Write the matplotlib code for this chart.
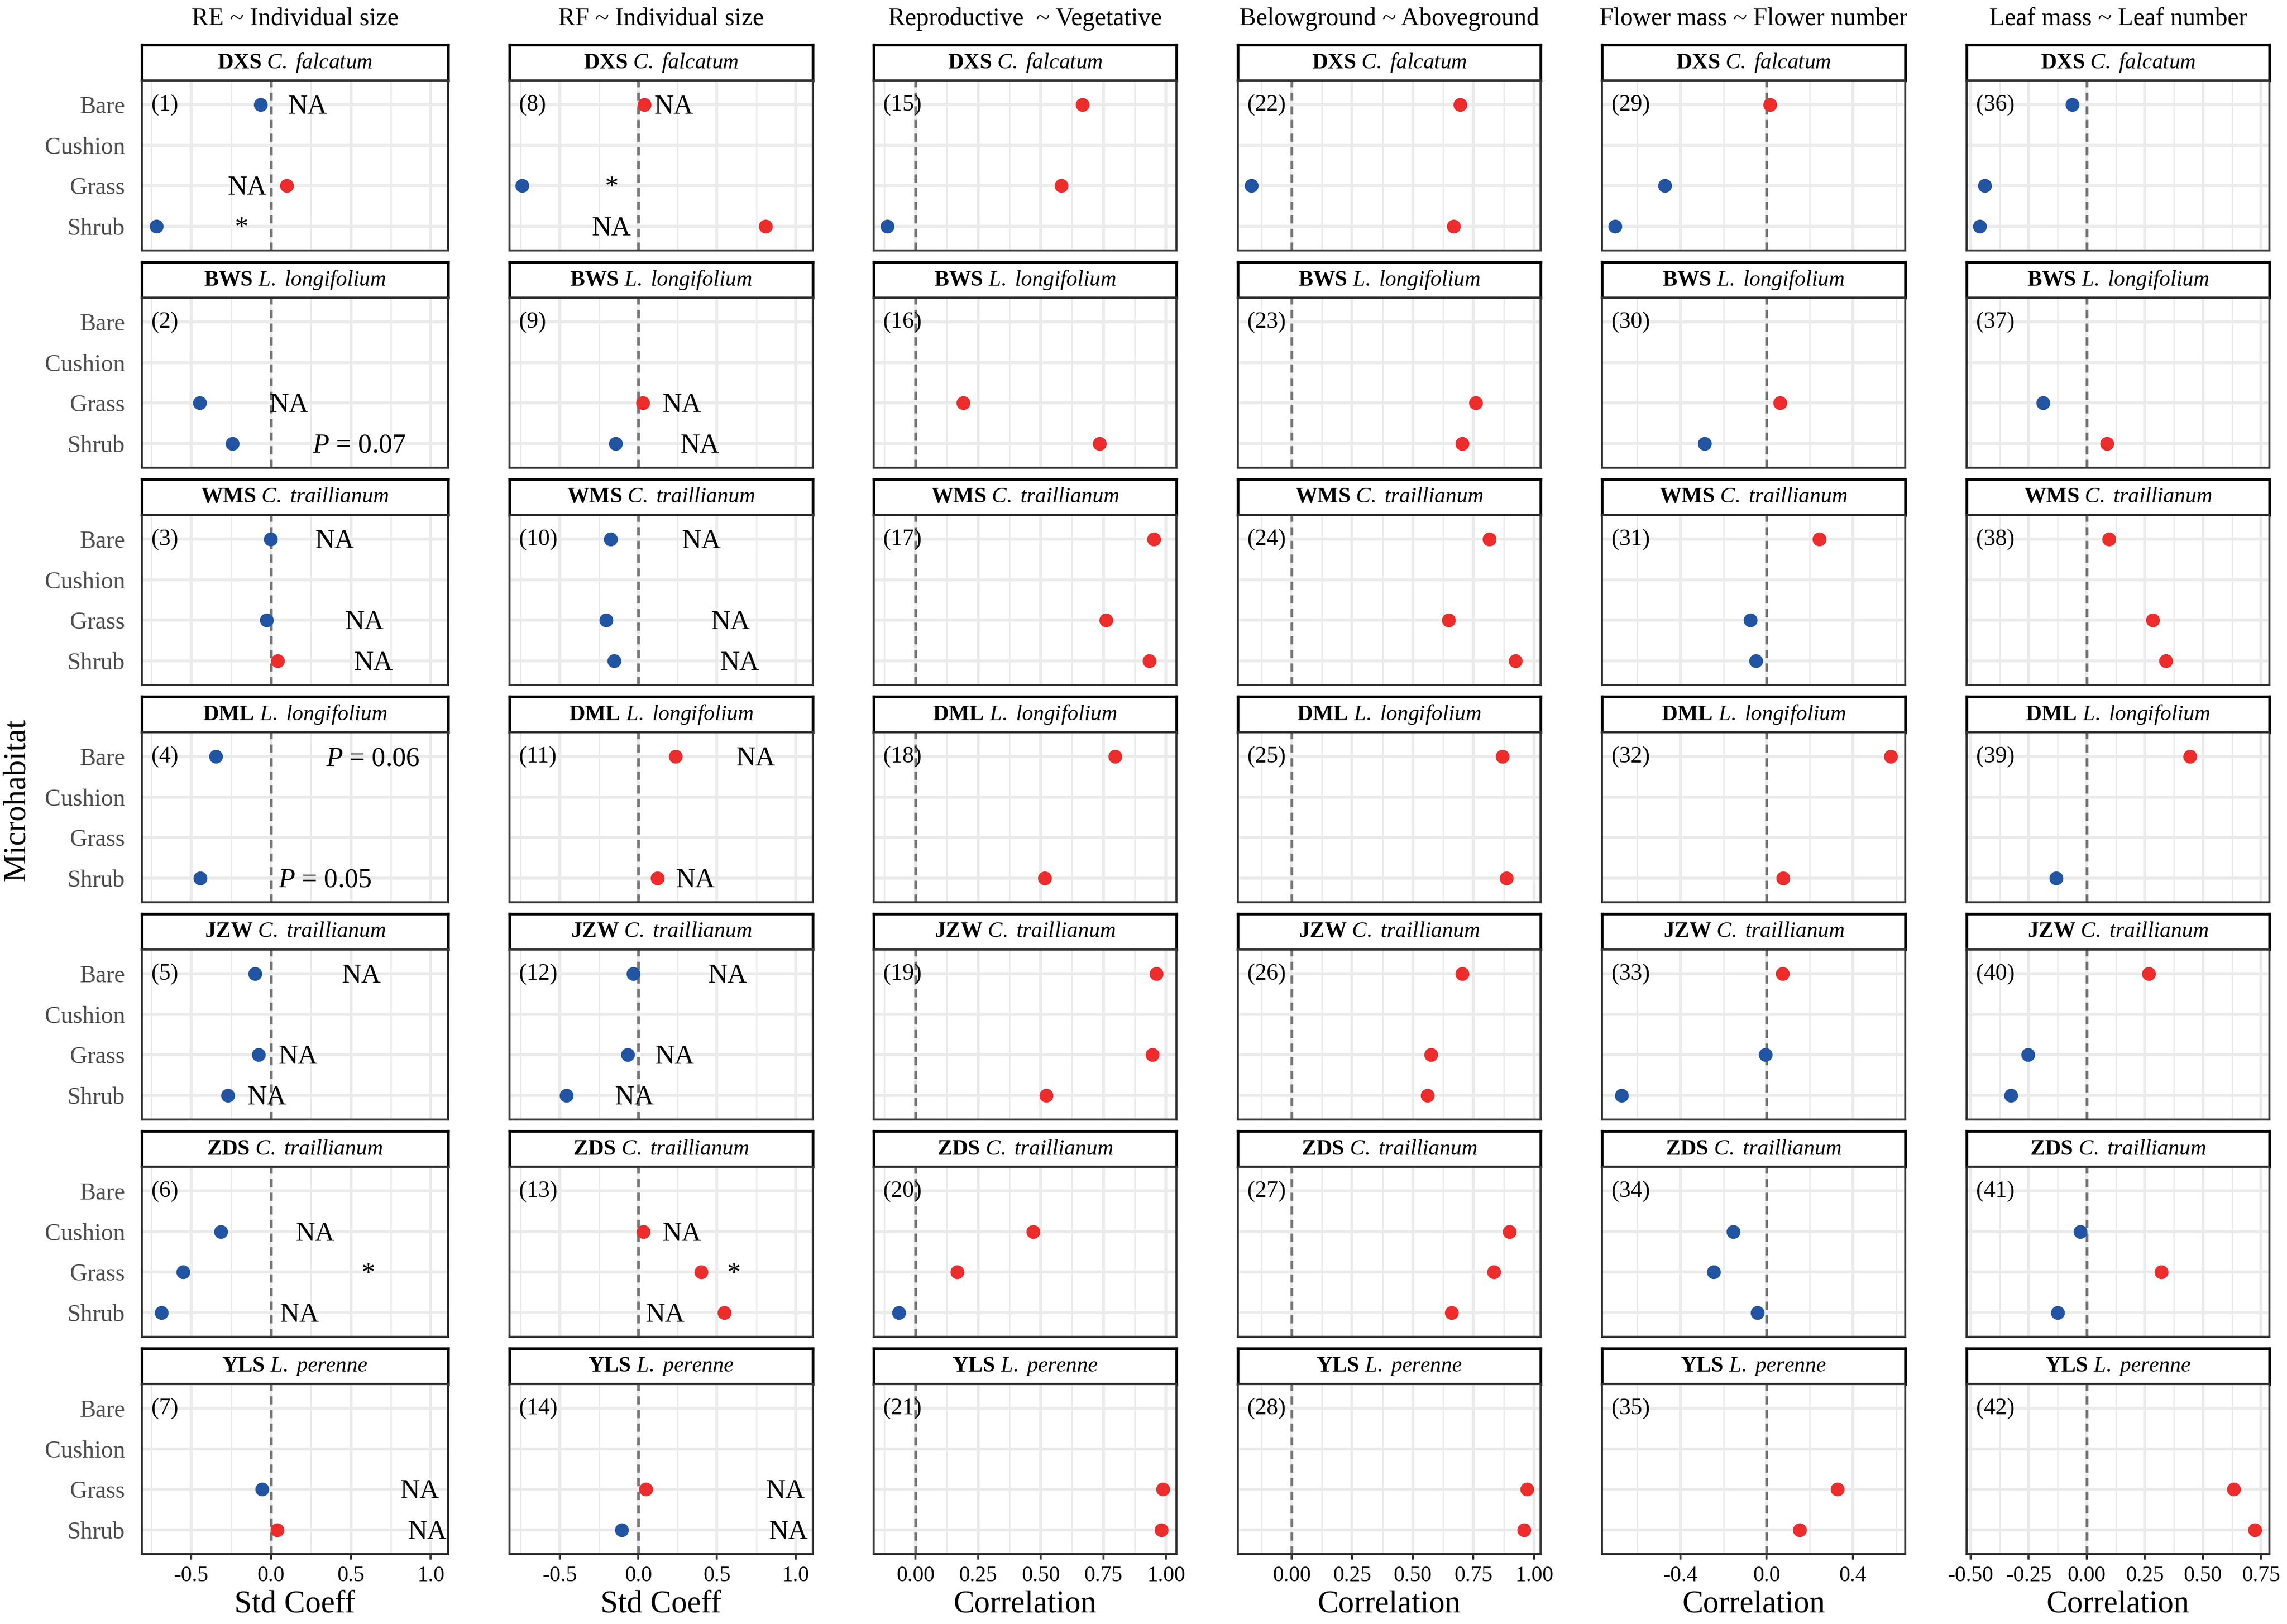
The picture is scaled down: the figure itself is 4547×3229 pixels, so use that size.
import matplotlib
matplotlib.use("Agg")
import matplotlib.pyplot as plt
import numpy as np
from matplotlib.ticker import FixedLocator, FormatStrFormatter

plt.rcParams["font.family"] = ["Liberation Serif", "DejaVu Serif"]
plt.rcParams["mathtext.fontset"] = "custom"
plt.rcParams["mathtext.rm"] = "Liberation Serif"
plt.rcParams["mathtext.it"] = "Liberation Serif:italic"
plt.rcParams["mathtext.bf"] = "Liberation Serif:bold"

nan = np.nan

habitats = ["Bare", "Cushion", "Grass", "Shrub"]
sites = ["DXS", "BWS", "WMS", "DML", "JZW", "ZDS", "YLS"]
species = ["C. falcatum", "L. longifolium", "C. traillianum", "L. longifolium",
           "C. traillianum", "C. traillianum", "L. perenne"]

col_titles = ["RE ~ Individual size", "RF ~ Individual size", "Reproductive  ~ Vegetative",
              "Belowground ~ Aboveground", "Flower mass ~ Flower number", "Leaf mass ~ Leaf number"]
x_titles = ["Std Coeff", "Std Coeff", "Correlation", "Correlation", "Correlation", "Correlation"]

# values: rows = sites, columns = Bare, Cushion, Grass, Shrub
re_size = [[-0.065, nan, 0.098, -0.720],
           [nan, nan, -0.449, -0.244],
           [-0.003, nan, -0.028, 0.040],
           [-0.345, nan, nan, -0.444],
           [-0.101, nan, -0.079, -0.272],
           [nan, -0.315, -0.551, -0.688],
           [nan, nan, -0.056, 0.039]]

rf_size = [[0.037, nan, -0.741, 0.810],
           [nan, nan, 0.029, -0.144],
           [-0.178, nan, -0.207, -0.155],
           [0.236, nan, nan, 0.121],
           [-0.032, nan, -0.069, -0.457],
           [nan, 0.032, 0.400, 0.546],
           [nan, nan, 0.046, -0.106]]

rep_veg = [[0.667, nan, 0.583, -0.113],
           [nan, nan, 0.191, 0.735],
           [0.952, nan, 0.760, 0.934],
           [0.796, nan, nan, 0.515],
           [0.961, nan, 0.946, 0.522],
           [nan, 0.470, 0.166, -0.066],
           [nan, nan, 0.987, 0.982]]

below_above = [[0.695, nan, -0.165, 0.669],
               [nan, nan, 0.760, 0.704],
               [0.815, nan, 0.647, 0.924],
               [0.869, nan, nan, 0.885],
               [0.704, nan, 0.575, 0.560],
               [nan, 0.898, 0.834, 0.660],
               [nan, nan, 0.972, 0.959]]

flower_mass_num = [[0.015, nan, -0.472, -0.703],
                   [nan, nan, 0.062, -0.289],
                   [0.245, nan, -0.075, -0.050],
                   [0.576, nan, nan, 0.077],
                   [0.073, nan, -0.006, -0.672],
                   [nan, -0.156, -0.245, -0.042],
                   [nan, nan, 0.328, 0.152]]

leaf_mass_num = [[-0.062, nan, -0.439, -0.461],
                 [nan, nan, -0.189, 0.087],
                 [0.096, nan, 0.283, 0.341],
                 [0.443, nan, nan, -0.131],
                 [0.266, nan, -0.254, -0.326],
                 [nan, -0.027, 0.320, -0.125],
                 [nan, nan, 0.632, 0.724]]

columns = [re_size, rf_size, rep_veg, below_above, flower_mass_num, leaf_mass_num]

x_limits = [(-0.81, 1.11), (-0.82, 1.11), (-0.167, 1.042), (-0.222, 1.027),
            (-0.764, 0.643), (-0.517, 0.786)]
x_major = [[-0.5, 0.0, 0.5, 1.0], [-0.5, 0.0, 0.5, 1.0],
           [0.0, 0.25, 0.5, 0.75, 1.0], [0.0, 0.25, 0.5, 0.75, 1.0],
           [-0.4, 0.0, 0.4], [-0.5, -0.25, 0.0, 0.25, 0.5, 0.75]]
x_minor = [[-0.75, -0.25, 0.25, 0.75], [-0.75, -0.25, 0.25, 0.75],
           [-0.125, 0.125, 0.375, 0.625, 0.875], [-0.125, 0.125, 0.375, 0.625, 0.875],
           [-0.6, -0.2, 0.2, 0.6], [-0.375, -0.125, 0.125, 0.375, 0.625]]
x_fmt = ["%.1f", "%.1f", "%.2f", "%.2f", "%.1f", "%.2f"]

# text notes: (panel number, habitat, x, label)
notes = [(1, "Bare", 0.23, "NA"), (1, "Grass", -0.15, "NA"), (1, "Shrub", -0.185, "*"),
         (2, "Grass", 0.112, "NA"), (2, "Shrub", 0.553, "$P$ = 0.07"),
         (3, "Bare", 0.40, "NA"), (3, "Grass", 0.584, "NA"), (3, "Shrub", 0.643, "NA"),
         (4, "Bare", 0.638, "$P$ = 0.06"), (4, "Shrub", 0.337, "$P$ = 0.05"),
         (5, "Bare", 0.567, "NA"), (5, "Grass", 0.169, "NA"), (5, "Shrub", -0.025, "NA"),
         (6, "Cushion", 0.275, "NA"), (6, "Grass", 0.607, "*"), (6, "Shrub", 0.177, "NA"),
         (7, "Grass", 0.933, "NA"), (7, "Shrub", 0.98, "NA"),
         (8, "Bare", 0.224, "NA"), (8, "Grass", -0.17, "*"), (8, "Shrub", -0.172, "NA"),
         (9, "Grass", 0.276, "NA"), (9, "Shrub", 0.39, "NA"),
         (10, "Bare", 0.40, "NA"), (10, "Grass", 0.586, "NA"), (10, "Shrub", 0.644, "NA"),
         (11, "Bare", 0.747, "NA"), (11, "Shrub", 0.362, "NA"),
         (12, "Bare", 0.569, "NA"), (12, "Grass", 0.23, "NA"), (12, "Shrub", -0.026, "NA"),
         (13, "Cushion", 0.276, "NA"), (13, "Grass", 0.606, "*"), (13, "Shrub", 0.172, "NA"),
         (14, "Grass", 0.934, "NA"), (14, "Shrub", 0.954, "NA")]

BLUE = "#2155A3"
RED = "#EE2C2C"

W, H = 4547, 3229
fig = plt.figure(figsize=(W / 300, H / 300), dpi=300)

col_left = [282, 1013, 1737, 2461, 3185, 3910]
col_right = [891, 1616, 2339, 3063, 3788, 4512]
row_top = [89 + 432 * r for r in range(7)]
strip_h = 71
panel_h = 338


def box(l, t, r, b):
    return [l / W, 1 - b / H, (r - l) / W, (b - t) / H]


for c in range(6):
    data = columns[c]
    for r in range(7):
        top = row_top[r]
        # strip
        sax = fig.add_axes(box(col_left[c], top, col_right[c], top + strip_h))
        sax.set_xticks([])
        sax.set_yticks([])
        for s in sax.spines.values():
            s.set_color("black")
            s.set_linewidth(1.3)
        sp = species[r].replace(" ", r"\ ")
        sax.text(0.5, 0.5, r"$\mathbf{%s}$ $\mathit{%s}$" % (sites[r], sp),
                 ha="center", va="center", fontsize=10.5, transform=sax.transAxes)

        ax = fig.add_axes(box(col_left[c], top + strip_h, col_right[c], top + strip_h + panel_h))
        ax.set_xlim(*x_limits[c])
        ax.set_ylim(4.6, 0.4)
        ax.set_yticks(range(1, 5))
        ax.xaxis.set_major_locator(FixedLocator(x_major[c]))
        ax.xaxis.set_minor_locator(FixedLocator(x_minor[c]))
        ax.xaxis.set_major_formatter(FormatStrFormatter(x_fmt[c]))
        ax.grid(which="major", color="#EBEBEB", lw=1.4)
        ax.grid(which="minor", axis="x", color="#EBEBEB", lw=0.7)
        ax.set_axisbelow(True)
        for s in ax.spines.values():
            s.set_color("#333333")
            s.set_linewidth(1.0)
        ax.tick_params(axis="y", length=0, pad=8, labelsize=11.5, labelcolor="#4D4D4D")
        ax.tick_params(axis="x", which="minor", length=0)
        if c == 0:
            ax.set_yticklabels(habitats)
        else:
            ax.set_yticklabels([])
        if r == 6:
            ax.tick_params(axis="x", which="major", length=2.6, width=1.0, color="#333333",
                           pad=3, labelsize=10.5, labelcolor="black")
        else:
            ax.tick_params(axis="x", which="major", length=0, labelbottom=False)

        ax.axvline(0, color="#737373", lw=1.3, ls=(0, (3, 2)), zorder=1.5)

        vals = data[r]
        for k, v in enumerate(vals):
            if np.isnan(v):
                continue
            ax.plot(v, k + 1, "o", ms=6.6, mec="none", color=BLUE if v < 0 else RED,
                    zorder=3, clip_on=False)

        num = c * 7 + r + 1
        ax.annotate("(%d)" % num, xy=(0, 1), xycoords=("axes fraction", "data"),
                    xytext=(4.5, -2.8), textcoords="offset points",
                    ha="left", va="baseline", fontsize=11)

        for pn, hab, xv, lab in notes:
            if pn == num:
                ax.annotate(lab, xy=(xv, habitats.index(hab) + 1),
                            xytext=(0, -4.3), textcoords="offset points",
                            ha="center", va="baseline", fontsize=13)

    cx = (col_left[c] + col_right[c]) / 2 / W
    fig.text(cx, 1 - 38 / H, col_titles[c], ha="center", va="center", fontsize=12)
    fig.text(cx, 1 - 3190 / H, x_titles[c], ha="center", va="center", fontsize=15)

fig.text(35 / W, 1 - 1591 / H, "Microhabitat", rotation=90, ha="center", va="center",
         fontsize=15)

fig.savefig("out.png", dpi=300)
